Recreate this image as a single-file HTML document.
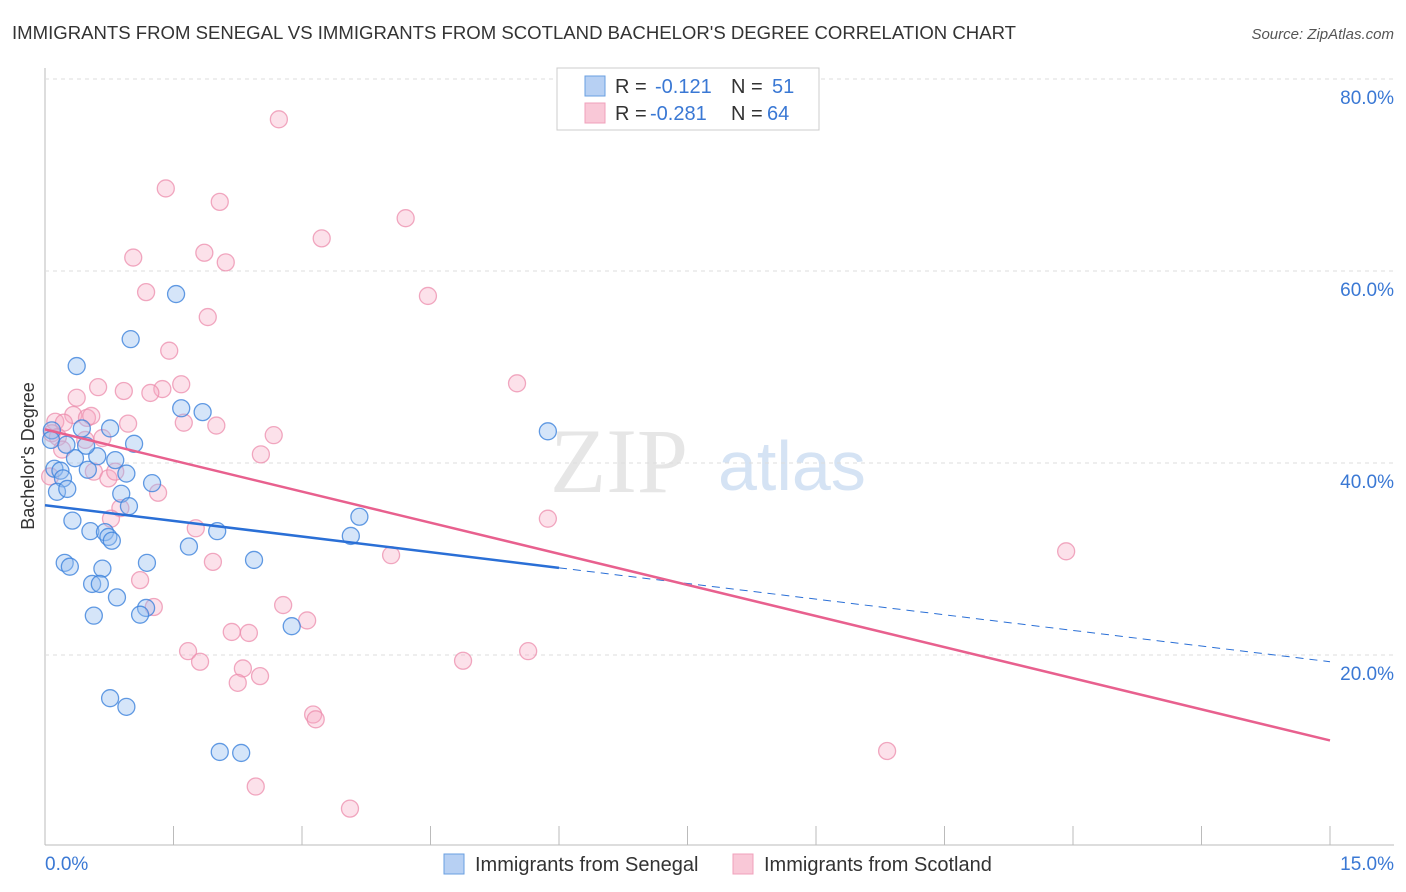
<!DOCTYPE html>
<html><head><meta charset="utf-8"><style>
body{margin:0;background:#fff;font-family:"Liberation Sans",sans-serif;}
svg{display:block}
</style></head><body>
<svg id="c" width="1406" height="892">
<text x="12" y="39" font-size="18" fill="#333" textLength="1004" lengthAdjust="spacingAndGlyphs">IMMIGRANTS FROM SENEGAL VS IMMIGRANTS FROM SCOTLAND BACHELOR'S DEGREE CORRELATION CHART</text>
<text x="1394" y="39" font-size="15" fill="#555" font-style="italic" text-anchor="end">Source: ZipAtlas.com</text>
<text x="550" y="492" font-size="92" fill="#e6e6e6" font-family="Liberation Serif,serif">ZIP</text>
<text x="718" y="490" font-size="70" fill="#d5e3f4">atlas</text>
<text transform="translate(34,456) rotate(-90)" font-size="18" fill="#333" text-anchor="middle">Bachelor's Degree</text>
<g id="grid"></g><g id="pts"></g><g id="lines"></g>
<g>
<rect x="557" y="68" width="262" height="62" fill="#fff" stroke="#ccc"/>
<rect x="585" y="76" width="20" height="20" fill="#b7d0f3" stroke="#6a9fe0"/>
<rect x="585" y="103" width="20" height="20" fill="#f9c8d7" stroke="#f0a0bb"/>
<text x="615" y="93" font-size="20" fill="#333">R = <tspan fill="#3a78d4" x="655">-0.121</tspan><tspan x="731">N = </tspan><tspan fill="#3a78d4" x="772">51</tspan></text>
<text x="615" y="120" font-size="20" fill="#333">R = <tspan fill="#3a78d4" x="650">-0.281</tspan><tspan x="731">N = </tspan><tspan fill="#3a78d4" x="767">64</tspan></text>
</g>
<g>
<rect x="444" y="854" width="20" height="20" fill="#b7d0f3" stroke="#6a9fe0"/>
<text x="475" y="871" font-size="20" fill="#333">Immigrants from Senegal</text>
<rect x="733" y="854" width="20" height="20" fill="#f9c8d7" stroke="#f0a0bb"/>
<text x="764" y="871" font-size="20" fill="#333">Immigrants from Scotland</text>
</g>
<text x="45" y="870" font-size="19" fill="#3a78d4">0.0%</text>
<text x="1394" y="870" font-size="19" fill="#3a78d4" text-anchor="end">15.0%</text>
</svg>
<script>
const blueX=[0.37,1.00,1.53,1.59,1.84,5.87,0.08,0.43,0.76,1.04,0.11,0.18,0.21,0.35,0.50,0.61,0.82,0.95,0.14,0.26,0.89,1.25,0.98,0.32,0.53,0.70,0.74,0.78,2.01,1.68,2.44,3.67,3.57,0.23,0.29,0.67,1.19,0.55,0.64,0.84,1.18,0.57,1.11,2.88,0.76,0.95,2.04,2.29,0.07,0.48,0.25];
const blueY=[50.1,52.9,57.6,45.7,45.3,43.3,43.4,43.6,43.6,42.0,39.4,39.2,38.4,40.5,39.3,40.7,40.3,38.9,37.0,37.3,36.8,37.9,35.5,34.0,32.9,32.8,32.3,31.9,32.9,31.3,29.9,34.4,32.4,29.6,29.2,29.0,29.6,27.4,27.4,26.0,24.9,24.1,24.2,23.0,15.5,14.6,9.9,9.8,42.4,41.8,41.9];
const pinkX=[2.73,1.41,2.04,4.21,3.23,1.86,1.03,2.11,1.18,4.47,1.90,1.45,5.51,0.62,0.92,1.59,1.37,1.23,0.37,0.12,0.33,0.49,0.54,0.22,0.97,1.62,2.00,2.67,0.67,0.08,0.15,0.47,2.52,0.20,0.57,0.74,0.82,0.06,1.32,0.88,0.77,5.87,1.76,4.04,11.92,1.11,1.96,1.27,2.78,3.06,2.18,2.38,1.67,1.81,4.88,5.64,2.31,2.51,2.25,3.13,3.16,9.83,2.46,3.56];
const pinkY=[75.8,68.6,67.2,65.5,63.4,61.9,61.4,60.9,57.8,57.4,55.2,51.7,48.3,47.9,47.5,48.2,47.7,47.3,46.8,44.3,45.0,44.7,44.9,44.2,44.1,44.2,43.9,42.9,42.6,43.1,42.7,42.4,40.9,41.4,39.1,38.4,39.1,38.6,36.9,35.3,34.2,34.2,33.2,30.4,30.8,27.8,29.7,25.0,25.2,23.6,22.4,22.3,20.4,19.3,19.4,20.4,18.6,17.8,17.1,13.8,13.3,10.0,6.3,4.0];
const yTicks=[20,40,60,80];
const xTicks=[0,1.5,3,4.5,6,7.5,9,10.5,12,13.5,15];
const blueTrend=[35.6,19.3], pinkTrend=[43.5,11.1], blueSolidEnd=6.0;
const X=v=>45+v/15*1285, Y=v=>847-v*9.6;
const NS="http://www.w3.org/2000/svg";
function mk(tag,attrs,parent){const e=document.createElementNS(NS,tag);for(const k in attrs)e.setAttribute(k,attrs[k]);parent.appendChild(e);return e;}
const grid=document.getElementById('grid');
let ax=mk('line',{x1:45,y1:68,x2:45,y2:845,stroke:'#bbb'},grid);


let bx=mk('line',{x1:45,y1:845,x2:1394,y2:845,stroke:'#bbb'},grid);


yTicks.forEach(t=>{
 const g=mk('line',{x1:45,x2:1394,y1:Y(t),y2:Y(t),stroke:'#ddd','stroke-dasharray':'4,4'},grid);
 
 
 const l=mk('text',{x:1394,y:Y(t)+25,'font-size':19,fill:'#3a78d4','text-anchor':'end'},grid);
 l.textContent=t.toFixed(1)+'%';
 
 
});
xTicks.forEach(t=>{
 const g=mk('line',{x1:X(t),x2:X(t),y1:826,y2:845,stroke:'#bbb'},grid);
 
 
});
const pts=document.getElementById('pts');
function draw(xs,ys,fill,stroke,name){xs.forEach((x,i)=>{
 const c=mk('circle',{cx:X(x),cy:Y(ys[i]),r:8.5,fill:fill,stroke:stroke,'stroke-width':1.3},pts);
 
 
});}
draw(pinkX,pinkY,'rgba(246,170,195,0.35)','rgba(236,140,172,0.75)','scotland-point');
draw(blueX,blueY,'rgba(150,190,240,0.4)','rgba(60,130,220,0.8)','senegal-point');
const lines=document.getElementById('lines');
const bAt=x=>blueTrend[0]+(blueTrend[1]-blueTrend[0])*x/15;
let l1=mk('line',{x1:X(0),y1:Y(bAt(0)),x2:X(blueSolidEnd),y2:Y(bAt(blueSolidEnd)),stroke:'#2a6fd6','stroke-width':2.5},lines);


let l2=mk('line',{x1:X(blueSolidEnd),y1:Y(bAt(blueSolidEnd)),x2:X(15),y2:Y(bAt(15)),stroke:'#2a6fd6','stroke-width':1,'stroke-dasharray':'8,6'},lines);


let l3=mk('line',{x1:X(0),y1:Y(pinkTrend[0]),x2:X(15),y2:Y(pinkTrend[1]),stroke:'#e8608e','stroke-width':2.5},lines);


</script>
</body></html>
